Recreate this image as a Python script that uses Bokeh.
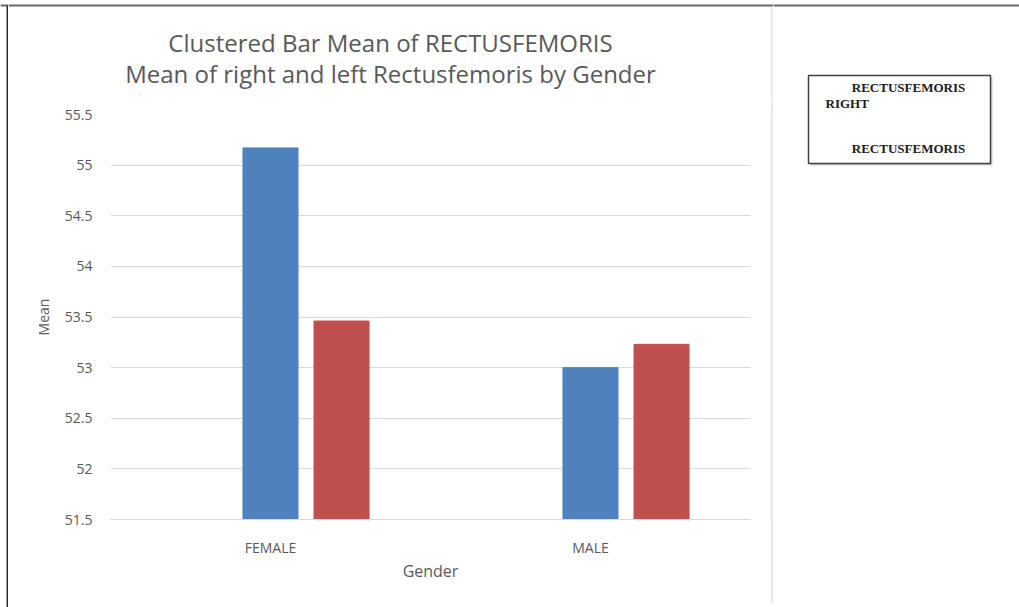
from bokeh.plotting import figure
from bokeh.layouts import row, column
from bokeh.models import (FactorRange, Range1d, FixedTicker,
                          CustomJSTickFormatter, ColumnDataSource)
from bokeh.core.properties import value
from bokeh.transform import dodge
from bokeh.embed import file_html
from bokeh.resources import INLINE

genders = ["FEMALE", "MALE"]
right_means = [55.17, 53.0]
left_means = [53.46, 53.23]
y_ticks = [51.5, 52, 52.5, 53, 53.5, 54, 54.5, 55, 55.5]
title_lines = ["Clustered Bar Mean of RECTUSFEMORIS",
               "Mean of right and left Rectusfemoris by Gender"]
legend_texts = ["RECTUSFEMORIS", "RIGHT", "RECTUSFEMORIS"]

grey = "#595959"
font = "Open Sans"
TOP_LINE = "#6a6a6a"
LEFT_LINE = "#2e2e2e"
RIGHT_LINE = "#ebebeb"


def blank(w, h, fill="white"):
    f = figure(width=w, height=h, output_backend="svg", toolbar_location=None,
               x_range=Range1d(0, w), y_range=Range1d(h, 0),
               x_axis_type=None, y_axis_type=None, min_border=0)
    f.outline_line_color = None
    f.background_fill_color = fill
    f.border_fill_color = fill
    return f


# ---- left border strip (canvas x 0..8)
left_strip = blank(8, 607)
left_strip.quad(left=[0, 6], right=[8, 8], top=[4, 5], bottom=[6, 607],
                fill_color=[TOP_LINE, LEFT_LINE], line_color=None)

# ---- title strip (canvas x 8..773, y 0..100)
TH = 100
title_fig = blank(765, TH)
title_fig.quad(left=[0, 762], right=[765, 765], top=[4, 7], bottom=[6, TH],
               fill_color=[TOP_LINE, RIGHT_LINE], line_color=None)
title_fig.text(x=[382, 382], y=[42, 73], text=title_lines, text_align="center",
               text_baseline="middle", text_font=value(font), text_font_size="24px",
               text_color=grey)

# ---- main chart (canvas x 8..770, y 100..604)
MH = 504
src = ColumnDataSource(dict(gender=genders, right=right_means, left=left_means))
p = figure(width=762, height=MH, output_backend="svg", toolbar_location=None,
           x_range=FactorRange(*genders, range_padding=0),
           y_range=Range1d(51.5, 55.5),
           min_border_left=102, min_border_right=20,
           min_border_top=14, min_border_bottom=MH - 14 - 405)
p.outline_line_color = None
p.background_fill_color = "white"
p.border_fill_color = "white"

p.vbar(x=dodge("gender", 0.0, range=p.x_range), top="right", bottom=51.5, width=0.172,
       source=src, fill_color="#4f81bd", line_color="#4f81bd")
p.vbar(x=dodge("gender", 0.222, range=p.x_range), top="left", bottom=51.5, width=0.172,
       source=src, fill_color="#c0504d", line_color="#c0504d")

p.yaxis.ticker = FixedTicker(ticks=y_ticks)
p.yaxis.formatter = CustomJSTickFormatter(code="return String(tick)")
p.ygrid.ticker = FixedTicker(ticks=y_ticks)
p.ygrid.grid_line_color = "#d9d9d9"
p.xgrid.grid_line_color = None
p.yaxis.axis_line_color = None
p.xaxis.axis_line_color = "#d9d9d9"
for ax in (p.xaxis, p.yaxis):
    ax.major_tick_line_color = None
    ax.minor_tick_line_color = None
    ax.major_tick_out = 0
    ax.minor_tick_out = 0
    ax.major_label_text_font = font
    ax.major_label_text_font_size = "14px"
    ax.major_label_text_color = grey
    ax.axis_label_text_font = font
    ax.axis_label_text_color = grey
    ax.axis_label_text_font_style = "normal"
p.yaxis.axis_label_text_font_size = "14px"
p.xaxis.axis_label_text_font_size = "16px"
p.yaxis.major_label_standoff = 18
p.xaxis.major_label_standoff = 18
p.yaxis.axis_label = "Mean"
p.xaxis.axis_label = "Gender"
p.yaxis.axis_label_standoff = 9
p.xaxis.axis_label_standoff = 0

# ---- right light border line of the chart area (canvas x 770..773)
rstrip = blank(3, MH, fill=RIGHT_LINE)
rstrip.quad(left=[0], right=[3], top=[0], bottom=[MH], fill_color=RIGHT_LINE, line_color=None)

# ---- bottom light border line of the chart area (canvas y 604..607)
bstrip = blank(765, 3, fill="#eeeeee")
bstrip.quad(left=[0], right=[765], top=[0], bottom=[3], fill_color="#eeeeee", line_color=None)

# ---- legend area (canvas x 773..1019)
leg = blank(246, 607)
leg.quad(left=[0], right=[246], top=[4], bottom=[6], fill_color=TOP_LINE, line_color=None)
leg.quad(left=[37], right=[219], top=[77], bottom=[165], fill_color="#d0d0d0",
         line_color=None)
leg.quad(left=[35], right=[217], top=[75], bottom=[163], fill_color="white",
         line_color="#404040", line_width=1.5)
leg.text(x=[135, 52, 135], y=[87, 103, 148], text=legend_texts,
         text_align=["center", "left", "center"], text_baseline="middle",
         text_font=value("Liberation Serif"), text_font_style="bold",
         text_font_size="13px", text_color="#202020")

layout = row(left_strip, column(title_fig, row(p, rstrip), bstrip), leg)
open("out.html", "w").write(file_html(layout, INLINE))
